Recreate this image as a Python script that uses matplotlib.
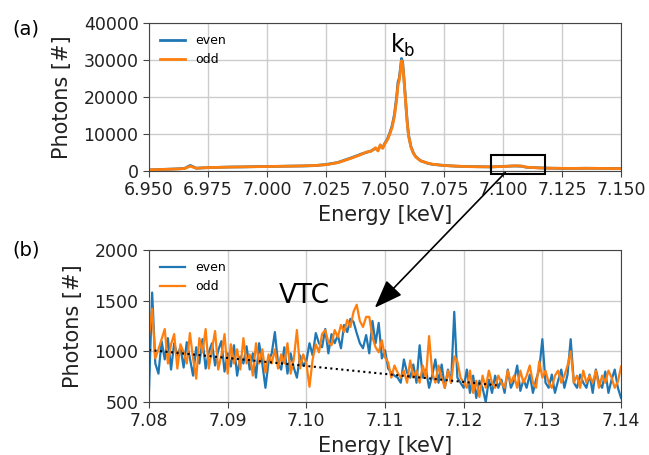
import numpy as np
import matplotlib
matplotlib.use("Agg")
from matplotlib import pyplot as plt
from matplotlib.patches import Rectangle

# (a) full spectrum (coarse)
e_full = [6.950, 6.955, 6.960, 6.965, 6.9675, 6.970, 6.975, 6.980, 6.985, 6.990,
          6.995, 7.000, 7.005, 7.010, 7.015, 7.020, 7.025, 7.030, 7.035, 7.038,
          7.040, 7.042, 7.044, 7.046, 7.047, 7.048, 7.049, 7.050, 7.051, 7.052,
          7.053, 7.054, 7.055, 7.0555, 7.056, 7.0565, 7.057, 7.0575, 7.058, 7.0585,
          7.059, 7.0595, 7.060, 7.061, 7.062, 7.063, 7.065, 7.068, 7.070, 7.075,
          7.080, 7.085, 7.090, 7.095, 7.100, 7.105, 7.108, 7.110, 7.115, 7.120,
          7.125, 7.130, 7.135, 7.140, 7.145, 7.150]
even_full = [300, 420, 520, 680, 1500, 760, 900, 1000, 1080, 1100,
             1180, 1220, 1250, 1320, 1350, 1450, 1750, 2300, 3400, 4100,
             4600, 5000, 5400, 6100, 5600, 6900, 6300, 7600, 8600, 10200,
             12200, 15300, 20500, 24000, 25000, 27500, 30400, 29200, 25200, 21000,
             16600, 12600, 9600, 6600, 4900, 3900, 2800, 2100, 1800, 1500,
             1300, 1200, 1150, 1100, 1250, 1350, 1280, 1000, 850, 760,
             700, 700, 740, 700, 690, 660]
odd_full = [320, 400, 500, 650, 1300, 740, 920, 980, 1050, 1120,
            1150, 1200, 1270, 1300, 1380, 1470, 1700, 2250, 3300, 4000,
            4500, 5100, 5300, 6300, 5400, 7100, 6100, 7400, 8400, 9900,
            11800, 14800, 19800, 23300, 24400, 27000, 29800, 28800, 24800, 20700,
            16300, 12300, 9400, 6400, 4800, 3800, 2750, 2150, 1850, 1480,
            1320, 1180, 1130, 1120, 1200, 1400, 1320, 1020, 840, 740,
            720, 690, 720, 710, 670, 650]

# (b) zoom on the VTC region, step 0.0004 keV from 7.080
e_zoom_start = 7.080
e_zoom_step = 0.0004
even_zoom = [620, 1580, 880, 780, 1100, 920, 1130, 820, 1080, 960,
             1040, 840, 1090, 930, 760, 1040, 880, 1120, 830, 990,
             1080, 860, 1010, 1100, 800, 980, 850, 1060, 760, 950,
             880, 1050, 820, 980, 740, 1080, 880, 640, 900, 980,
             1190, 880, 820, 1040, 780, 980, 840, 740, 960, 860,
             900, 1080, 960, 1180, 1080, 1040, 1220, 980, 1170, 1080,
             1160, 1030, 1260, 1190, 1320, 1290, 1180, 1080, 1030, 1160,
             980, 1300, 1080, 1280, 930, 1010, 830, 790, 760, 740,
             690, 920, 790, 740, 870, 690, 1060, 740, 820, 640,
             760, 920, 690, 870, 640, 820, 690, 1390, 740, 690,
             640, 820, 590, 760, 540, 710, 640, 500, 720, 590,
             760, 640, 720, 590, 820, 640, 710, 860, 610, 720,
             640, 770, 590, 720, 820, 1120, 690, 640, 770, 590,
             710, 820, 640, 770, 1120, 690, 640, 770, 690, 640,
             770, 590, 820, 690, 640, 800, 590, 720, 820, 640, 540]
odd_zoom = [1150, 1420, 930, 1020, 1120, 1220, 880, 1070, 1170, 830,
            1070, 990, 880, 1180, 930, 730, 1130, 990, 1220, 830,
            1020, 1200, 820, 960, 1170, 780, 1070, 880, 1020, 820,
            1130, 880, 970, 760, 1080, 880, 1020, 790, 970, 880,
            1020, 830, 970, 880, 1080, 780, 920, 1210, 830, 970,
            880, 650, 920, 1070, 990, 1170, 1210, 1090, 1060, 1210,
            1140, 1260, 1190, 1310, 1240, 1390, 1460, 1300, 1240, 1340,
            1340, 1140, 1040, 990, 1110, 940, 890, 740, 860, 790,
            740, 810, 690, 910, 740, 810, 690, 860, 740, 1150,
            790, 690, 860, 740, 640, 810, 690, 950, 900, 740,
            690, 640, 810, 590, 710, 550, 760, 640, 810, 690,
            640, 760, 690, 640, 810, 690, 760, 640, 810, 690,
            760, 860, 690, 640, 900, 740, 810, 690, 640, 760,
            810, 690, 760, 860, 1000, 690, 760, 640, 810, 690,
            760, 690, 810, 640, 760, 690, 810, 740, 640, 700, 850]
e_zoom = e_zoom_start + e_zoom_step * np.arange(len(even_zoom))

# linear background under the VTC
bg_e = [7.080, 7.1242]
bg_y = [1013, 665]

BLUE = '#1f77b4'
ORANGE = '#ff7f0e'

fig = plt.figure(figsize=(6.49, 4.55), dpi=100)
ax1 = fig.add_axes([0.2296, 0.6242, 0.7273, 0.3253])
ax2 = fig.add_axes([0.2296, 0.1165, 0.7273, 0.3341])

for ax in (ax1, ax2):
    ax.grid(True, color='#cccccc', linewidth=1.0)
    ax.set_axisbelow(True)
    for s in ax.spines.values():
        s.set_color('#444444')
    ax.tick_params(labelsize=12.5, direction='out', length=4, color='#444444', labelcolor='#222222')
    ax.set_xlabel('Energy [keV]', fontsize=15, color='#222222')
    ax.set_ylabel('Photons [#]', fontsize=15, color='#222222', labelpad=8)

# (a)
ax1.plot(e_full, even_full, color=BLUE, lw=2, label='even')
ax1.plot(e_full, odd_full, color=ORANGE, lw=2, label='odd')
ax1.set_xlim(6.95, 7.15)
ax1.set_ylim(0, 40000)
ax1.set_xticks(np.arange(6.95, 7.1501, 0.025))
ax1.set_xticklabels(['%.3f' % v for v in np.arange(6.95, 7.1501, 0.025)])
ax1.set_yticks([0, 10000, 20000, 30000, 40000])
ax1.legend(loc='upper left', frameon=False, fontsize=9)
ax1.text(7.0574, 32000, r'$\mathregular{k_b}$', ha='center', va='baseline', fontsize=17)
ax1.add_patch(Rectangle((7.095, -730), 0.0228, 5130, fill=False, edgecolor='k',
                        lw=1.5, clip_on=False, zorder=5))

# (b)
ax2.plot(e_zoom, even_zoom, color=BLUE, lw=1.6, label='even')
ax2.plot(e_zoom, odd_zoom, color=ORANGE, lw=1.6, label='odd')
ax2.plot(bg_e, bg_y, color='k', ls=':', lw=1.5)
ax2.set_xlim(7.08, 7.14)
ax2.set_ylim(500, 2000)
ax2.set_xticks(np.arange(7.08, 7.1401, 0.01))
ax2.set_xticklabels(['%.2f' % v for v in np.arange(7.08, 7.1401, 0.01)])
ax2.set_yticks([500, 1000, 1500, 2000])
ax2.legend(loc='upper left', frameon=False, fontsize=9)
ax2.text(7.0997, 1546, 'VTC', ha='center', va='center', fontsize=19)

ax2.annotate('', xy=(7.1087, 1430), xycoords=ax2.transData,
             xytext=(7.101, -400), textcoords=ax1.transData,
             arrowprops=dict(arrowstyle='-|>,head_length=0.8,head_width=0.3',
                             color='k', lw=1.2, mutation_scale=22,
                             shrinkA=0, shrinkB=0))

fig.text(0.040, 0.936, '(a)', fontsize=14, ha='center', va='center')
fig.text(0.040, 0.450, '(b)', fontsize=14, ha='center', va='center')

fig.savefig('out.png', dpi=100)
